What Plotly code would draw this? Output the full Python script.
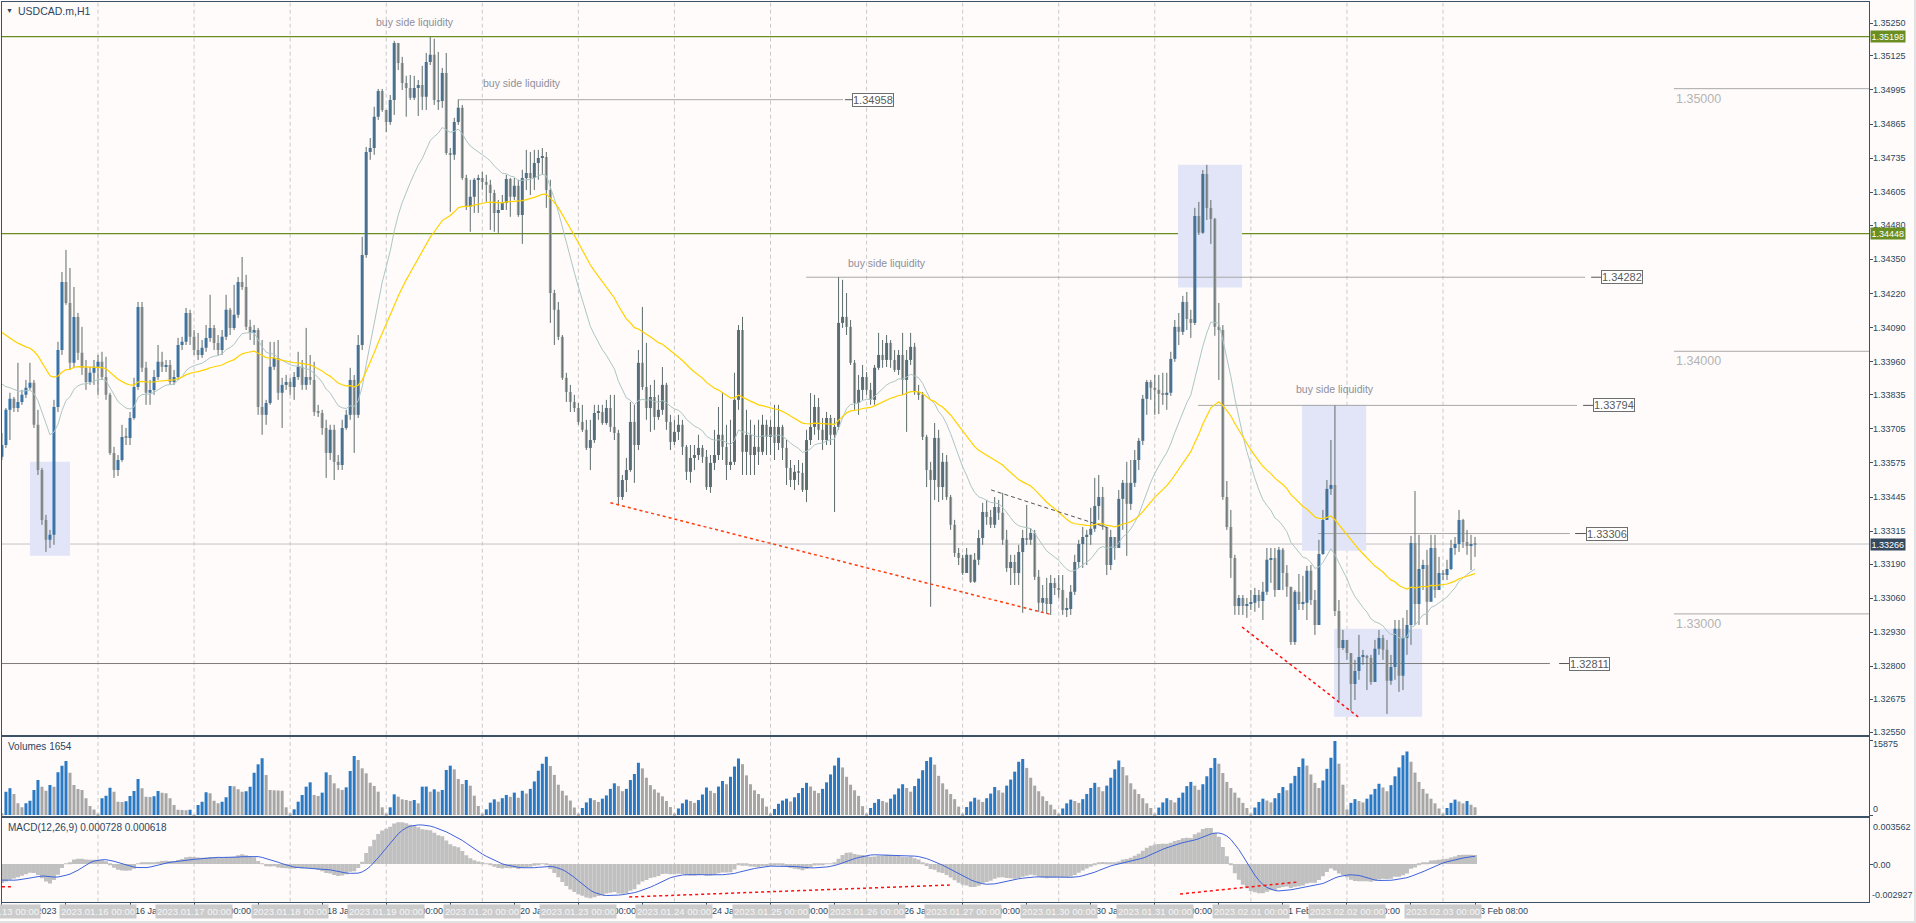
import plotly.graph_objects as go

# ------------------------------------------------------------------ data
trading_days = ["2023.01.13", "2023.01.16", "2023.01.17", "2023.01.18", "2023.01.19",
                "2023.01.20", "2023.01.23", "2023.01.24", "2023.01.25", "2023.01.26",
                "2023.01.27", "2023.01.30", "2023.01.31", "2023.02.01", "2023.02.02",
                "2023.02.03"]

first_open = 1.33598

close = [1.33643,1.33777,1.33819,1.33784,1.33807,1.33834,1.33861,1.33880,1.33720,1.33548,
1.33358,1.33282,1.33301,1.33788,1.34005,1.34264,1.34184,1.33956,1.34131,1.33994,
1.33937,1.33883,1.33918,1.33941,1.33960,1.33902,1.33834,1.33613,1.33548,1.33586,
1.33674,1.33670,1.33746,1.33864,1.34169,1.33937,1.33842,1.33853,1.33902,1.33960,
1.33941,1.33948,1.33883,1.33902,1.34024,1.34036,1.34146,1.34055,1.34005,1.33986,
1.34013,1.34051,1.34089,1.34032,1.34005,1.34055,1.34158,1.34089,1.34139,1.34264,
1.34245,1.34093,1.34070,1.34081,1.33788,1.33758,1.33803,1.33941,1.33975,1.33842,
1.33872,1.33883,1.33864,1.33902,1.33941,1.33872,1.33902,1.33891,1.33769,1.33765,
1.33708,1.33613,1.33701,1.33579,1.33567,1.33708,1.33758,1.33891,1.33758,1.34024,
1.34367,1.34759,1.34774,1.34893,1.34991,1.34919,1.34873,1.34957,1.35174,1.35098,
1.35022,1.35003,1.34965,1.35003,1.35014,1.34969,1.35102,1.35129,1.34957,1.34953,
1.35060,1.34755,1.34748,1.34873,1.34927,1.34660,1.34550,1.34588,1.34653,1.34660,
1.34645,1.34634,1.34603,1.34527,1.34538,
1.34565,1.34656,1.34588,1.34630,1.34519,1.34660,1.34679,1.34660,1.34717,1.34736,
1.34740,1.34614,1.34222,1.34158,1.34055,1.33899,1.33845,1.33807,1.33784,1.33731,
1.33701,1.33632,1.33662,1.33765,1.33769,1.33727,1.33784,1.33712,1.33689,1.33445,
1.33510,1.33548,1.33731,1.33643,1.33956,1.33864,1.33784,1.33826,1.33750,1.33777,
1.33872,1.33731,1.33655,1.33693,1.33720,1.33636,1.33541,1.33594,1.33605,1.33632,
1.33598,1.33483,1.33575,1.33605,1.33682,1.33636,1.33567,1.33579,1.33815,1.34081,
1.33617,1.33682,1.33605,1.33636,1.33617,1.33720,1.33674,1.33712,1.33651,1.33712,
1.33632,1.33556,1.33510,1.33541,1.33537,1.33472,1.33662,1.33712,1.33788,1.33701,
1.33662,1.33746,1.33682,1.33712,1.34108,1.34131,1.34093,1.33956,1.33803,1.33853,
1.33902,1.33853,1.33815,1.33937,1.33986,1.33967,1.34032,1.33967,1.33929,1.33986,
1.33891,1.33967,1.34017,1.33845,1.33834,1.33674,1.33548,1.33510,1.33670,1.33483,
1.33579,1.33445,1.33339,1.33232,1.33213,1.33156,1.33225,1.33122,1.33206,1.33289,
1.33388,1.33369,1.33339,1.33407,1.33385,1.33282,1.33175,1.33198,1.33156,1.33236,
1.33289,1.33282,1.33308,1.33141,1.33042,1.33061,1.33038,1.33118,1.33099,1.33091,
1.33015,1.33019,1.33084,1.33198,1.33266,1.33293,1.33301,1.33324,1.33411,1.33445,
1.33331,1.33186,1.33293,1.33251,1.33438,1.33499,1.33419,1.33499,1.33586,1.33659,
1.33819,1.33883,1.33861,1.33853,1.33838,1.33834,1.33842,1.33971,1.34093,1.34074,
1.34188,1.34123,1.34108,1.34515,1.34451,1.34675,1.34546,1.34504,1.34093,1.34081,
1.33445,1.33331,1.33213,1.33030,1.33061,1.33030,1.33038,1.33042,1.33072,1.33049,
1.33084,1.33206,1.33213,1.33091,1.33244,1.33156,1.33103,1.32893,1.33084,1.33038,
1.33042,1.33164,1.33053,1.32958,1.33228,1.33358,1.33476,1.33491,1.33011,1.32870,
1.32901,1.32851,1.32733,1.32783,1.32836,1.32840,1.32832,1.32741,1.32867,1.32908,
1.32863,1.32745,1.32798,1.32943,1.32764,1.32908,1.32958,1.33270,1.33038,1.33171,
1.33186,1.33046,1.33251,1.33091,1.33156,1.33148,1.33171,1.33251,1.33266,1.33358,
1.33274,1.33259,1.33266,1.33266]

high = [1.33689,1.33784,1.33842,1.33826,1.33956,1.33853,1.33891,1.33956,1.33891,1.33777,
1.33556,1.33377,1.33320,1.33815,1.34036,1.34302,1.34386,1.34317,1.34245,1.34146,
1.34093,1.33967,1.33941,1.33967,1.33986,1.33998,1.33979,1.33842,1.33636,1.33605,
1.33720,1.33708,1.33769,1.33899,1.34188,1.34188,1.33960,1.33891,1.33929,1.34024,
1.33998,1.33967,1.33967,1.33929,1.34051,1.34055,1.34165,1.34158,1.34081,1.34070,
1.34043,1.34100,1.34215,1.34100,1.34062,1.34081,1.34215,1.34165,1.34253,1.34283,
1.34359,1.34291,1.34120,1.34100,1.34089,1.34043,1.33815,1.34036,1.34036,1.34043,
1.33899,1.33910,1.33899,1.33921,1.33998,1.33967,1.34089,1.33986,1.33960,1.33796,
1.33777,1.33739,1.33720,1.33720,1.33605,1.33739,1.33777,1.33937,1.33910,1.34062,
1.34436,1.34778,1.34812,1.34931,1.34999,1.34999,1.34919,1.34976,1.35182,1.35174,
1.35121,1.35049,1.35052,1.35049,1.35033,1.35087,1.35136,1.35197,1.35190,1.35140,
1.35079,1.35136,1.34774,1.34889,1.34958,1.34938,1.34672,1.34653,1.34660,1.34672,
1.34683,1.34672,1.34653,1.34615,1.34576,
1.34595,1.34672,1.34660,1.34660,1.34653,1.34691,1.34767,1.34759,1.34767,1.34767,
1.34774,1.34759,1.34653,1.34234,1.34188,1.34062,1.33918,1.33872,1.33834,1.33803,
1.33796,1.33739,1.33739,1.33796,1.33796,1.33796,1.33815,1.33834,1.33834,1.33701,
1.33529,1.33594,1.33807,1.33796,1.34005,1.34169,1.34032,1.33872,1.33891,1.33834,
1.33940,1.33880,1.33758,1.33739,1.33758,1.33739,1.33643,1.33643,1.33643,1.33682,
1.33643,1.33624,1.33605,1.33701,1.33788,1.33845,1.33720,1.33739,1.33918,1.34100,
1.34131,1.33777,1.33739,1.33720,1.33739,1.33758,1.33739,1.33739,1.33796,1.33796,
1.33720,1.33662,1.33586,1.33567,1.33586,1.33575,1.33701,1.33841,1.33834,1.33822,
1.33746,1.33769,1.33758,1.33746,1.34282,1.34272,1.34222,1.34119,1.33967,1.33910,
1.33948,1.33921,1.33880,1.33948,1.34070,1.34043,1.34062,1.34043,1.34005,1.34005,
1.34070,1.34005,1.34070,1.34032,1.33872,1.33845,1.33682,1.33579,1.33727,1.33701,
1.33613,1.33605,1.33453,1.33358,1.33251,1.33225,1.33251,1.33206,1.33232,1.33320,
1.33423,1.33434,1.33396,1.33445,1.33434,1.33461,1.33320,1.33225,1.33225,1.33263,
1.33320,1.33415,1.33327,1.33320,1.33167,1.33110,1.33137,1.33148,1.33137,1.33148,
1.33148,1.33061,1.33110,1.33225,1.33282,1.33331,1.33320,1.33404,1.33518,1.33529,
1.33483,1.33331,1.33320,1.33293,1.33472,1.33510,1.33579,1.33586,1.33624,1.33670,
1.33834,1.33891,1.33891,1.33910,1.33910,1.33918,1.33918,1.33998,1.34119,1.34146,
1.34211,1.34226,1.34158,1.34546,1.34569,1.34690,1.34710,1.34576,1.34508,1.34184,
1.34100,1.33506,1.33396,1.33225,1.33072,1.33072,1.33061,1.33091,1.33099,1.33091,
1.33122,1.33251,1.33251,1.33251,1.33255,1.33251,1.33186,1.33099,1.33091,1.33152,
1.33145,1.33183,1.33186,1.33091,1.33282,1.33396,1.33510,1.33662,1.33794,1.33053,
1.32939,1.32901,1.32844,1.32825,1.32920,1.32863,1.32844,1.32844,1.32901,1.32939,
1.32920,1.32901,1.32844,1.32977,1.32977,1.32985,1.33015,1.33297,1.33468,1.33301,
1.33206,1.33244,1.33301,1.33301,1.33217,1.33167,1.33206,1.33282,1.33293,1.33396,
1.33362,1.33320,1.33301,1.33293]

low = [1.33586,1.33632,1.33662,1.33769,1.33769,1.33796,1.33822,1.33853,1.33708,1.33529,
1.33339,1.33236,1.33251,1.33263,1.33769,1.33986,1.34177,1.33929,1.33937,1.33967,
1.33910,1.33853,1.33872,1.33872,1.33834,1.33891,1.33815,1.33605,1.33518,1.33525,
1.33579,1.33643,1.33643,1.33739,1.33853,1.33921,1.33796,1.33796,1.33834,1.33891,
1.33921,1.33921,1.33872,1.33872,1.33891,1.34005,1.34024,1.34024,1.33986,1.33967,
1.33975,1.33998,1.34036,1.34005,1.33986,1.33986,1.34043,1.34062,1.34081,1.34127,
1.34234,1.34081,1.34043,1.34024,1.33758,1.33682,1.33720,1.33796,1.33929,1.33815,
1.33708,1.33853,1.33834,1.33815,1.33891,1.33853,1.33853,1.33872,1.33754,1.33750,
1.33682,1.33518,1.33586,1.33510,1.33548,1.33548,1.33701,1.33739,1.33613,1.33746,
1.34005,1.34356,1.34729,1.34748,1.34881,1.34912,1.34835,1.34862,1.34900,1.35071,
1.34995,1.34893,1.34957,1.34957,1.34896,1.34919,1.34919,1.35090,1.34938,1.34919,
1.34927,1.34748,1.34531,1.34729,1.34862,1.34653,1.34538,1.34455,1.34527,1.34527,
1.34615,1.34569,1.34462,1.34455,1.34451,
1.34538,1.34538,1.34512,1.34576,1.34512,1.34409,1.34614,1.34595,1.34614,1.34653,
1.34672,1.34546,1.34108,1.34024,1.34043,1.33891,1.33807,1.33769,1.33769,1.33720,
1.33693,1.33624,1.33548,1.33651,1.33739,1.33720,1.33720,1.33693,1.33662,1.33415,
1.33434,1.33464,1.33541,1.33499,1.33624,1.33853,1.33739,1.33693,1.33701,1.33739,
1.33758,1.33701,1.33624,1.33643,1.33662,1.33605,1.33510,1.33499,1.33548,1.33586,
1.33575,1.33472,1.33461,1.33548,1.33586,1.33586,1.33510,1.33548,1.33567,1.33777,
1.33529,1.33529,1.33529,1.33529,1.33567,1.33605,1.33605,1.33605,1.33586,1.33624,
1.33586,1.33491,1.33483,1.33472,1.33491,1.33464,1.33426,1.33643,1.33682,1.33662,
1.33624,1.33643,1.33643,1.33388,1.33701,1.34089,1.34062,1.33948,1.33777,1.33758,
1.33815,1.33834,1.33796,1.33796,1.33929,1.33937,1.33940,1.33937,1.33921,1.33910,
1.33834,1.33693,1.33948,1.33834,1.33815,1.33662,1.33483,1.33027,1.33434,1.33426,
1.33434,1.33434,1.33320,1.33217,1.33186,1.33148,1.33160,1.33118,1.33118,1.33186,
1.33263,1.33339,1.33327,1.33327,1.33358,1.33263,1.33160,1.33110,1.33110,1.33110,
1.33004,1.33263,1.33263,1.33129,1.33008,1.33008,1.33000,1.32996,1.33072,1.33061,
1.32996,1.32988,1.32996,1.33072,1.33175,1.33175,1.33186,1.33263,1.33312,1.33358,
1.33320,1.33148,1.33167,1.33206,1.33282,1.33320,1.33221,1.33396,1.33483,1.33548,
1.33643,1.33758,1.33815,1.33758,1.33761,1.33796,1.33777,1.33830,1.33960,1.34024,
1.34062,1.34081,1.34051,1.34100,1.34443,1.34447,1.34500,1.34409,1.34059,1.33891,
1.33434,1.33320,1.33137,1.32996,1.32996,1.32996,1.32985,1.33015,1.33008,1.33023,
1.32977,1.33072,1.33118,1.33065,1.33091,1.33091,1.33065,1.32882,1.32882,1.33015,
1.33015,1.32977,1.33034,1.32920,1.32958,1.33225,1.33358,1.33453,1.32992,1.32669,
1.32863,1.32825,1.32631,1.32672,1.32749,1.32806,1.32710,1.32730,1.32749,1.32844,
1.32825,1.32619,1.32730,1.32749,1.32703,1.32710,1.32844,1.32882,1.32958,1.32958,
1.33091,1.32958,1.33110,1.33061,1.33091,1.33129,1.33129,1.33167,1.33225,1.33236,
1.33251,1.33225,1.33167,1.33217]

volume = [360,5005,5720,4505,2503,1645,2503,3075,5363,7508,
6078,5220,6435,6078,9152,10582,11583,9081,6435,5577,
5363,3575,1931,1200,150,3575,4147,5863,5005,2860,
2790,2930,4076,5148,7722,5720,3933,3861,4004,5148,
4791,4648,3575,2145,1100,1050,1000,1150,100,2145,
2860,4862,4648,3075,2503,2860,3790,6221,6150,5506,
5005,5100,6078,9081,10868,12155,8580,5363,5300,5250,
5200,1645,358,1216,2860,4290,6078,7007,4290,4076,
4791,9152,8580,6793,5720,5363,5935,9438,12656,11798,
10010,8938,6936,6221,5005,1645,358,1645,4433,3933,
3361,3218,3003,3218,2503,6078,6100,5005,5506,5005,
5363,9653,10582,9796,7722,6650,7508,6292,4147,1931,
215,1216,2646,3361,2860,
3600,4300,3900,4800,3700,5200,4600,5600,7200,9500,
11000,12500,10500,8600,6500,5200,4200,3100,1600,300,
1500,2700,3600,3200,2800,3500,4200,5600,6800,6200,
5100,5600,7500,8800,11200,10000,8000,6400,5500,4800,
4000,3000,1700,250,1400,2500,3300,3000,2600,3200,
4400,5900,5200,4700,6100,7300,6600,8200,10400,12100,
10900,8500,6600,5300,4500,3600,1800,200,1300,2400,
3100,3500,2900,3800,4700,5800,6900,6100,5200,4700,
5600,7000,8700,10600,12300,10200,8200,6500,5300,4100,
1900,250,1500,2600,3400,3000,2700,3500,4400,5700,
6600,5800,5000,6200,7800,9600,11600,12400,10800,8400,
6800,5500,4500,3400,1800,300,1700,2900,3700,3300,
2800,3600,4600,6000,5300,4800,6300,7600,9300,11400,
12000,10100,8000,6300,5100,4000,3000,2200,1200,200,
1400,2500,3300,3000,2600,3400,4500,5800,6900,6000,
5100,6300,8000,9800,11700,10300,8500,6800,5500,4500,
3600,2500,1500,250,1600,2700,3600,3200,2700,3700,
4800,6200,7100,6300,5400,6600,8300,10100,12200,11000,
9000,7100,5800,4800,3700,2600,1500,300,1600,2800,
3500,3100,2700,3600,4700,6000,5300,6800,8400,10300,
12100,10600,8700,6900,5800,7400,9900,12300,15875,11000,
6500,1200,2600,3400,3000,2700,3500,4400,5600,6700,
5900,5100,6400,8300,10200,12800,13600,11400,9100,7100,
5600,4600,3500,2500,1400,300,1500,2600,3300,2900,
2500,3000,2200,1654]

price_ticks = [1.35250, 1.35125, 1.34995, 1.34865, 1.34735, 1.34605, 1.34480, 1.34350,
               1.34220, 1.34090, 1.33960, 1.33835, 1.33705, 1.33575, 1.33445, 1.33315,
               1.33190, 1.33060, 1.32930, 1.32800, 1.32675, 1.32550]
green_levels = [1.35198, 1.34448]
last_price = 1.33266
round_levels = [1.35000, 1.34000, 1.33000]
liquidity_levels = [1.34958, 1.34282, 1.33794, 1.33306, 1.32811]
volume_top_label = 15875
macd_top, macd_bottom = 0.003562, -0.002927
# indicator values at the first visible bar
ema20_seed, ema50_seed = 1.33899, 1.34089
ema12_seed, ema26_seed, signal_seed = 1.33795, 1.33941, -0.00122

# ------------------------------------------------------------ derived
n = len(close)
xs = list(range(n))
opens = [first_open] + close[:-1]
hi = [max(h, o, c) for h, o, c in zip(high, opens, close)]
lo = [min(l, o, c) for l, o, c in zip(low, opens, close)]


def ema(values, period, seed):
    k = 2.0 / (period + 1)
    out, e = [], seed
    for v in values:
        e += k * (v - e)
        out.append(e)
    return out


ema20 = ema(close, 20, ema20_seed)
ema50 = ema(close, 50, ema50_seed)
macd = [a - b for a, b in zip(ema(close, 12, ema12_seed), ema(close, 26, ema26_seed))]
ext = [signal_seed] * 8 + macd
signal = [sum(ext[i:i + 9]) / 9.0 for i in range(n)]

# ------------------------------------------------------------ style
W, H = 1916, 923
BG = "#fffbfa"
BORDER = "#3b5266"
TXT = "#2b4660"
BLUE = "#2a79c4"
GRAY = "#a6a6a6"
WICK = "#5e6c6c"
FONT = "Liberation Sans, Arial, sans-serif"
AXF = 9

# bar centre pixel = 1.93 + 4.003 * index ; plot spans pixels 2 .. 1869
XR = [-0.03, (1869 - 1.93) / 4.003]
XD = [(1.93 - 0.03 * 4.003) / W, 1869 / W]
DOM_MAIN = [1 - 734.7 / H, 1 - 2 / H]
DOM_VOL = [1 - 816 / H, 1 - 736.5 / H]
DOM_MACD = [1 - 901.7 / H, 1 - 818.3 / H]
YR_MAIN = [1.32540, 1.35330]
YR_VOL = [-214.5, 16838]
YR_MACD = [macd_bottom, macd_top]


def py(y_px):
    return 1 - y_px / H

# ------------------------------------------------------------ traces
fig = go.Figure()

wx, wy = [], []
for i in xs:
    wx += [i, i, None]
    wy += [lo[i], hi[i], None]
fig.add_trace(go.Scatter(x=wx, y=wy, mode="lines", line=dict(color=WICK, width=1),
                         hoverinfo="skip", xaxis="x", yaxis="y"))

body_base = [min(o, c) for o, c in zip(opens, close)]
body_h = [max(abs(c - o), 0.00003) for o, c in zip(opens, close)]
body_col = [BLUE if c > o else GRAY for o, c in zip(opens, close)]
fig.add_trace(go.Bar(x=xs, y=body_h, base=body_base, width=0.75,
                     marker=dict(color=body_col, line=dict(width=0)),
                     xaxis="x", yaxis="y"))

fig.add_trace(go.Scatter(x=xs, y=ema20, mode="lines", line=dict(color="#abc6c6", width=1),
                         xaxis="x", yaxis="y"))
fig.add_trace(go.Scatter(x=xs, y=ema50, mode="lines", line=dict(color="#ffd200", width=1.2),
                         xaxis="x", yaxis="y"))

vol_col = [GRAY] + [BLUE if volume[i] > volume[i - 1] else GRAY for i in range(1, n)]
fig.add_trace(go.Bar(x=xs, y=volume, width=0.75, marker=dict(color=vol_col, line=dict(width=0)),
                     xaxis="x2", yaxis="y2"))

fig.add_trace(go.Bar(x=xs, y=macd, width=1.0, marker=dict(color="#c0c0c0", line=dict(width=0)),
                     xaxis="x3", yaxis="y3"))
fig.add_trace(go.Scatter(x=xs, y=signal, mode="lines", line=dict(color="#3d62dc", width=1),
                         xaxis="x3", yaxis="y3"))

# ------------------------------------------------------------ shapes
shapes = []
for d in range(1, len(trading_days)):
    b = 24 * d
    for xr, yr in (("x", "y domain"), ("x2", "y2 domain"), ("x3", "y3 domain")):
        shapes.append(dict(type="line", xref=xr, yref=yr, x0=b, x1=b, y0=0, y1=1, layer="below",
                           line=dict(color="#cacaca", width=1, dash="4px,3px")))

# highlight boxes (bar from, bar to, price low, price high)
for b0, b1, p0, p1 in [(7.0, 17.0, 1.33221, 1.33579), (293.8, 309.8, 1.34243, 1.34710),
                       (324.8, 340.8, 1.33240, 1.33796), (332.8, 354.8, 1.32608, 1.32943)]:
    shapes.append(dict(type="rect", xref="x", yref="y", x0=b0, x1=b1, y0=p0, y1=p1, layer="below",
                       fillcolor="#e2e5f8", line=dict(width=0)))

for lv in green_levels:
    shapes.append(dict(type="line", xref="x domain", yref="y", x0=0, x1=1, y0=lv, y1=lv,
                       layer="below", line=dict(color="#6b8e23", width=1.2)))
shapes.append(dict(type="line", xref="x domain", yref="y", x0=0, x1=1, y0=last_price, y1=last_price,
                   layer="below", line=dict(color="#c4c4c4", width=1)))

for lv in round_levels:
    shapes.append(dict(type="line", xref="x", yref="y", x0=417.7, x1=XR[1], y0=lv, y1=lv,
                       layer="below", line=dict(color="#a9a9a9", width=1)))

# liquidity lines: level -> (start bar, end bar, segment start, box left)
liq_geom = {1.34958: (113.9, 210.1, 210.6, 212.4, "#a8a8a8"),
            1.34282: (200.9, 395.5, 397.0, 399.5, "#a8a8a8"),
            1.33794: (298.8, 393.5, 395.0, 397.5, "#a8a8a8"),
            1.33306: (328.8, 391.7, 393.0, 395.7, "#a8a8a8"),
            1.32811: (-1.0, 386.7, 389.0, 391.5, "#7c7c7c")}
for lv in liquidity_levels:
    s, e, ss, bx, col = liq_geom[lv]
    shapes.append(dict(type="line", xref="x", yref="y", x0=s, x1=e, y0=lv, y1=lv, layer="below",
                       line=dict(color=col, width=1)))
    shapes.append(dict(type="line", xref="x", yref="y", x0=ss, x1=bx, y0=lv, y1=lv,
                       line=dict(color="#555555", width=1)))

# trend lines
shapes.append(dict(type="line", xref="x", yref="y", x0=152.0, x1=262.0, y0=1.33423, y1=1.32998,
                   line=dict(color="#ff3c10", width=1.5, dash="3px,3px")))
shapes.append(dict(type="line", xref="x", yref="y", x0=309.8, x1=338.8, y0=1.32950, y1=1.32608,
                   line=dict(color="#ff1010", width=1.5, dash="3px,3px")))
shapes.append(dict(type="line", xref="x", yref="y", x0=247.1, x1=276.1, y0=1.33472, y1=1.33329,
                   line=dict(color="#555555", width=1, dash="4px,3px")))
for b0, b1, v0, v1 in [(156.7, 236.8, -0.00256, -0.00163), (294.3, 323.8, -0.00233, -0.00139),
                       (0.0, 2.5, -0.00177, -0.00177)]:
    shapes.append(dict(type="line", xref="x3", yref="y3", x0=b0, x1=b1, y0=v0, y1=v1,
                       line=dict(color="#ff1010", width=1.5, dash="3px,3px")))

# outer window frame (right and bottom strips)
shapes.append(dict(type="line", xref="paper", yref="paper", x0=1 - 1 / W, x1=1 - 1 / W, y0=0, y1=1,
                   line=dict(color="#e2e2e2", width=2)))
shapes.append(dict(type="line", xref="paper", yref="paper", x0=0, x1=1, y0=1 / H, y1=1 / H,
                   line=dict(color="#e2e2e2", width=2)))

# ------------------------------------------------------------ annotations
ann = []


def text(x, y, s, size=AXF, color=TXT, xref="paper", yref="paper", xanchor="left",
         yanchor="middle", **kw):
    ann.append(dict(x=x, y=y, text=s, xref=xref, yref=yref, xanchor=xanchor, yanchor=yanchor,
                    showarrow=False, font=dict(family=FONT, size=size, color=color), **kw))


text(4 / W, py(10.5), "▼", size=7)
text(16 / W, py(10.5), "USDCAD.m,H1", size=10.5)
text(6 / W, py(746), f"Volumes {volume[-1]}", size=10)
text(6 / W, py(827), "MACD(12,26,9) 0.000728 0.000618", size=10)

for b, p in [(103.1, 1.35254), (129.8, 1.35022), (221.0, 1.34336), (332.9, 1.33857)]:
    text(b, p, "buy side liquidity", size=10.5, color="#8d8f9c", xref="x", yref="y",
         xanchor="center")

for lv in liquidity_levels:
    bx = liq_geom[lv][3]
    text(bx, lv, f"{lv:.5f}", size=11, color="#5a5a5a", xref="x", yref="y",
         bgcolor="#ffffff", bordercolor="#6e6e6e", borderwidth=1, borderpad=0)

for lv in round_levels:
    text(417.7, lv, f"{lv:.5f}", size=12.5, color="#b4b4b4", xref="x", yref="y",
         yanchor="top", yshift=-1)

# right price scale labels
for v in price_ticks:
    text(1872 / W, v, f"{v:.5f}", yref="y", borderpad=0)
for lv in green_levels:
    text(1870 / W, lv, f"{lv:.5f}", color="#ffffff", yref="y", bgcolor="#6b8e23", borderpad=0.5)
text(1870 / W, last_price, f"{last_price:.5f}", color="#ffffff", yref="y", bgcolor="#34495e",
     borderpad=0.5)

text(1872 / W, py(744), str(volume_top_label), borderpad=0)
text(1872 / W, py(809), "0", borderpad=0)
text(1872 / W, py(827), f"{macd_top:.6f}", borderpad=0)
text(1872 / W, py(865), "0.00", borderpad=0)
text(1871 / W, py(895), f"{macd_bottom:.6f}", borderpad=0)

# time axis: terminal labels every 16 bars, day separators with date boxes on top
MONTHS = {"01": "Jan", "02": "Feb"}
tick_bars = list(range(0, n, 16))


def bar_day_hour(i):
    if i < 24:
        return 0, i
    return 1 + (i - 24) // 24, (i - 24) % 24


for b in tick_bars:
    d, h = bar_day_hour(b)
    day = trading_days[d]
    lab = f"{int(day[8:10])} {MONTHS[day[5:7]]} "
    lab += "2023" if b == 0 else f"{h:02d}:00"
    text(b + 0.8, py(911), lab, xref="x3")
for d, day in enumerate(trading_days):
    b = 24 * d
    text(b, py(911), f"{day} 00:00", color="#f6f6f6", xref="x3", xanchor="center",
         bgcolor="#cbcbcb", borderpad=1, size=9.5)

# ------------------------------------------------------------ layout
axis_common = dict(range=XR, domain=XD, showgrid=False, zeroline=False, showline=True,
                   mirror=True, linecolor=BORDER, linewidth=1, fixedrange=True)
yaxis_common = dict(side="right", showticklabels=False, ticks="outside", ticklen=3,
                    tickcolor=BORDER, showgrid=False, zeroline=False, showline=True, mirror=True,
                    linecolor=BORDER, linewidth=1, fixedrange=True)
fig.update_layout(
    width=W, height=H, margin=dict(l=0, r=0, t=0, b=0),
    paper_bgcolor=BG, plot_bgcolor=BG, showlegend=False, hovermode=False,
    barmode="overlay",
    xaxis=dict(anchor="y", showticklabels=False, ticks="", **axis_common),
    xaxis2=dict(anchor="y2", showticklabels=False, ticks="", **axis_common),
    xaxis3=dict(anchor="y3", showticklabels=False, ticks="outside", ticklen=4, tickcolor=BORDER,
                tickvals=tick_bars, **axis_common),
    yaxis=dict(domain=DOM_MAIN, range=YR_MAIN, anchor="x", tickvals=price_ticks, **yaxis_common),
    yaxis2=dict(domain=DOM_VOL, range=YR_VOL, anchor="x2", tickvals=[0, volume_top_label],
                **yaxis_common),
    yaxis3=dict(domain=DOM_MACD, range=YR_MACD, anchor="x3", tickvals=[0], **yaxis_common),
    shapes=shapes, annotations=ann,
)

fig.write_html("out.html", config={"displayModeBar": False},
               post_script="document.body.style.margin='0px';"
                           "document.body.style.overflow='hidden';"
                           "document.body.style.background='" + BG + "';")
